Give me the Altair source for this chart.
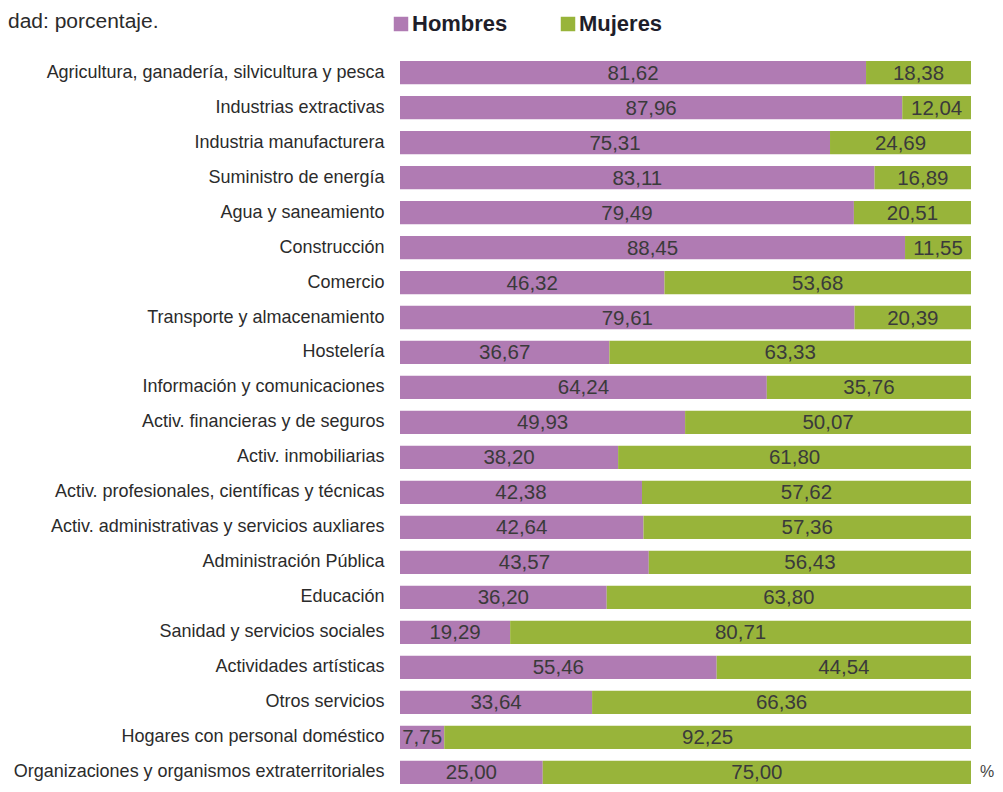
import altair as alt
import pandas as pd

categorias = [
    "Agricultura, ganadería, silvicultura y pesca",
    "Industrias extractivas",
    "Industria manufacturera",
    "Suministro de energía",
    "Agua y saneamiento",
    "Construcción",
    "Comercio",
    "Transporte y almacenamiento",
    "Hostelería",
    "Información y comunicaciones",
    "Activ. financieras y de seguros",
    "Activ. inmobiliarias",
    "Activ. profesionales, científicas y técnicas",
    "Activ. administrativas y servicios auxliares",
    "Administración Pública",
    "Educación",
    "Sanidad y servicios sociales",
    "Actividades artísticas",
    "Otros servicios",
    "Hogares con personal doméstico",
    "Organizaciones y organismos extraterritoriales",
]
hombres = [81.62, 87.96, 75.31, 83.11, 79.49, 88.45, 46.32, 79.61, 36.67, 64.24,
           49.93, 38.20, 42.38, 42.64, 43.57, 36.20, 19.29, 55.46, 33.64, 7.75, 25.00]
mujeres = [18.38, 12.04, 24.69, 16.89, 20.51, 11.55, 53.68, 20.39, 63.33, 35.76,
           50.07, 61.80, 57.62, 57.36, 56.43, 63.80, 80.71, 44.54, 66.36, 92.25, 75.00]
series = ["Hombres", "Mujeres"]
colores = ["#B07BB3", "#98B43A"]
titulo = "dad: porcentaje."
unidad = "%"

rows = []
for c, h, m in zip(categorias, hombres, mujeres):
    rows.append({"cat": c, "sexo": "Hombres", "orden": 0, "valor": h,
                 "etiqueta": f"{h:.2f}".replace(".", ",")})
    rows.append({"cat": c, "sexo": "Mujeres", "orden": 1, "valor": m,
                 "etiqueta": f"{m:.2f}".replace(".", ",")})
df = pd.DataFrame(rows)

W = 571
STEP = 34.98
PI = 0.335
N = len(categorias)
H = round(STEP * (N - PI), 1)
TOP = 53

yenc = alt.Y("cat:N", sort=categorias,
             scale=alt.Scale(paddingInner=PI, paddingOuter=0),
             axis=alt.Axis(title=None, domain=False, ticks=False, labelPadding=16,
                           labelFontSize=18, labelColor="#2b2b2b", labelLimit=0,
                           labelFont="Liberation Sans"))

base = alt.Chart(df).transform_stack(
    stack="valor", groupby=["cat"], as_=["x0", "x1"],
    sort=[alt.SortField("orden", order="ascending")]
).transform_calculate(mid="(datum.x0 + datum.x1) / 2")

bars = base.mark_bar().encode(
    y=yenc,
    x=alt.X("x0:Q", scale=alt.Scale(domain=[0, 100], nice=False), axis=None),
    x2="x1:Q",
    color=alt.Color("sexo:N", scale=alt.Scale(domain=series, range=colores),
                    legend=alt.Legend(title=None, orient="none", legendX=-10, legendY=-48,
                                      direction="horizontal", symbolType="square",
                                      symbolSize=210, symbolStrokeWidth=0,
                                      labelFontSize=22, labelFontWeight="bold",
                                      labelFont="Liberation Sans", labelColor="#1e1e2a",
                                      labelOffset=0, columnPadding=49, padding=0)),
)

labels = base.mark_text(fontSize=20.5, color="#3a3a3a", font="Liberation Sans",
                        baseline="middle", dy=1).encode(
    y=alt.Y("cat:N", sort=categorias),
    x=alt.X("mid:Q"),
    text="etiqueta:N",
)

tit = alt.Chart(pd.DataFrame({"t": [titulo]})).mark_text(
    align="left", baseline="alphabetic", fontSize=21, color="#2b2b2b",
    font="Liberation Sans").encode(
    x=alt.value(-392), y=alt.value(-33), text="t:N")

pct = alt.Chart(pd.DataFrame({"cat": [categorias[-1]], "t": [unidad]})).mark_text(
    align="left", baseline="middle", fontSize=16, color="#444444",
    font="Liberation Sans").encode(
    x=alt.value(W + 9), y=alt.Y("cat:N", sort=categorias), text="t:N")

chart = alt.layer(bars, labels, tit, pct).properties(
    width=W, height=H,
    autosize=alt.AutoSizeParams(type="none"),
    padding={"left": 392, "top": TOP, "right": 24, "bottom": 0},
    background="white",
).configure_view(stroke=None)

chart.save("out.html", embed_options={"renderer": "svg", "actions": False})
